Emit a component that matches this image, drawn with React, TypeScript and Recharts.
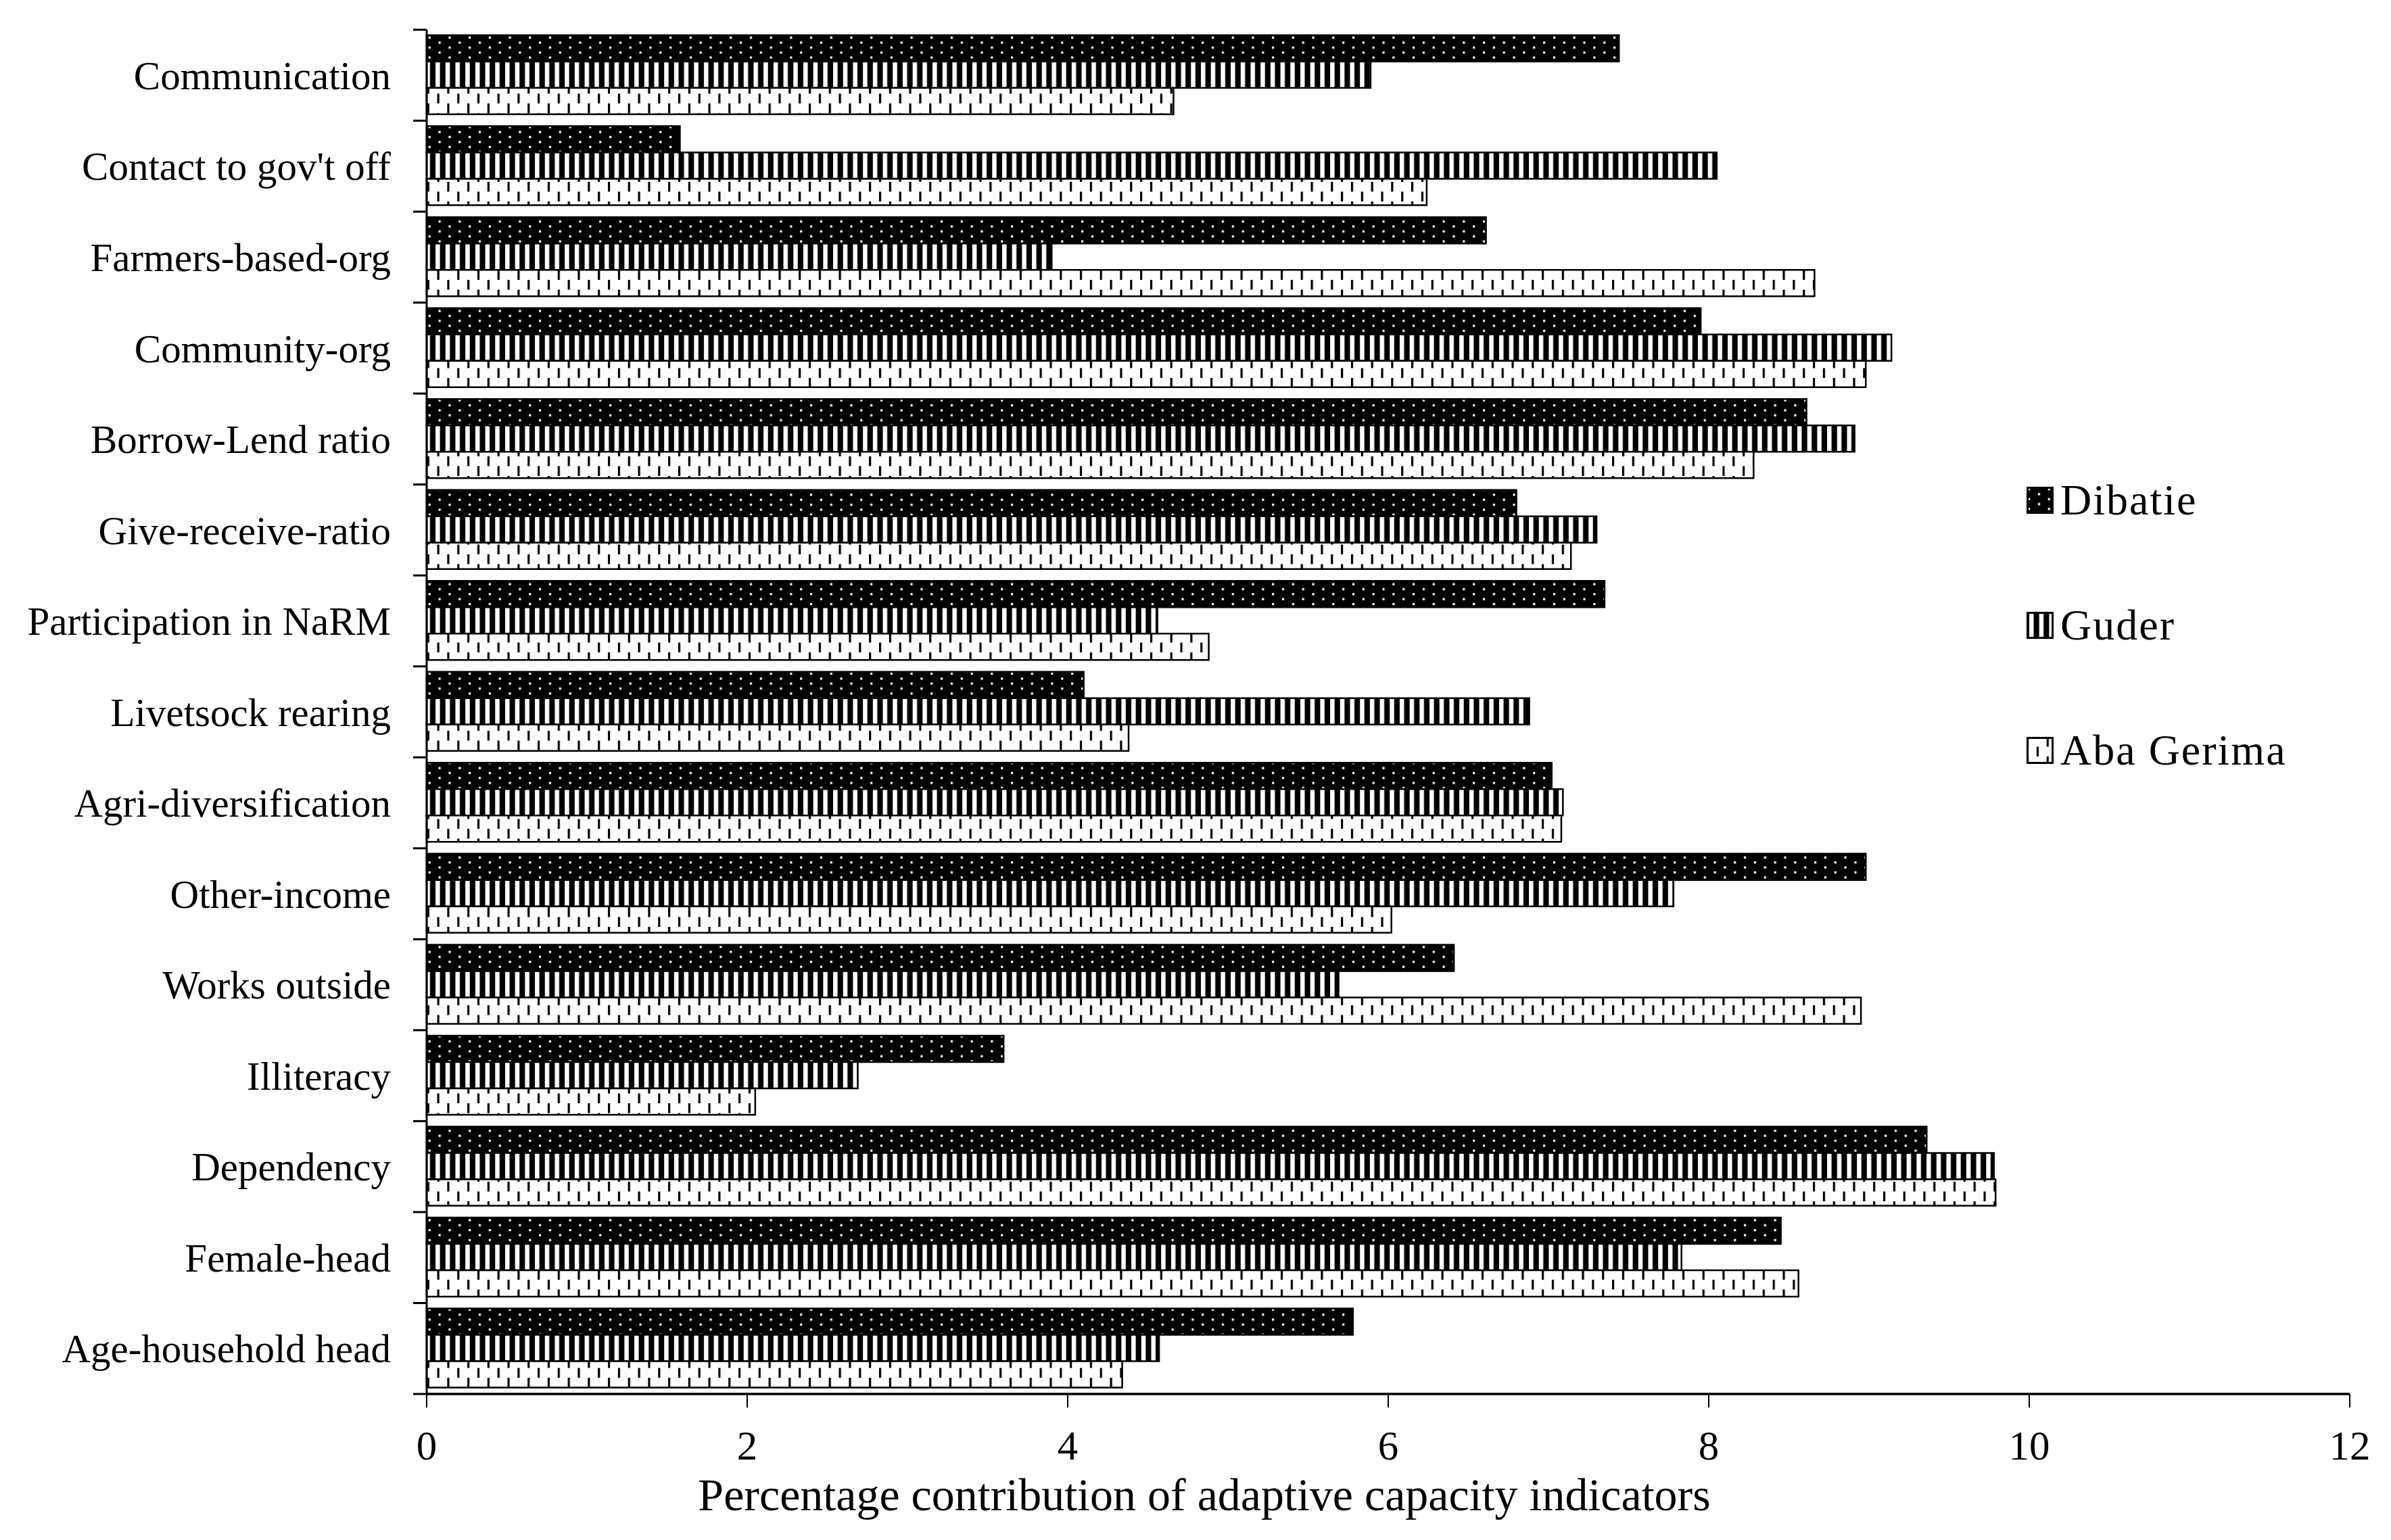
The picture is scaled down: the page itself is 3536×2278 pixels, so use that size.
import React from "react"
import { Bar, BarChart, Legend, XAxis, YAxis } from "recharts"

const categories = [
  "Communication",
  "Contact to gov't off",
  "Farmers-based-org",
  "Community-org",
  "Borrow-Lend ratio",
  "Give-receive-ratio",
  "Participation in NaRM",
  "Livetsock rearing",
  "Agri-diversification",
  "Other-income",
  "Works outside",
  "Illiteracy",
  "Dependency",
  "Female-head",
  "Age-household head",
]

const dibatie = [7.44, 1.58, 6.61, 7.95, 8.61, 6.8, 7.35, 4.1, 7.02, 8.98, 6.41, 3.6, 9.36, 8.45, 5.78]
const guder = [5.89, 8.05, 3.9, 9.14, 8.91, 7.3, 4.56, 6.88, 7.09, 7.78, 5.69, 2.69, 9.78, 7.83, 4.57]
const abaGerima = [4.66, 6.24, 8.66, 8.98, 8.28, 7.14, 4.88, 4.38, 7.08, 6.02, 8.95, 2.05, 9.79, 8.56, 4.34]

const seriesNames = ["Dibatie", "Guder", "Aba Gerima"]
const xTicks = [0, 2, 4, 6, 8, 10, 12]

const data = categories.map((name, i) => ({
  name,
  Dibatie: dibatie[i],
  Guder: guder[i],
  "Aba Gerima": abaGerima[i],
}))

const FONT = '"Liberation Serif", "Times New Roman", serif'
const W = 3520
const H = 2262
const TOP = 36
const X_AXIS_H = 208
const Y_AXIS_W = 623
const LABEL_GAP = 53
const BAND = (H - TOP - X_AXIS_H) / categories.length

const patternIds: Record<string, string> = {
  Dibatie: "pat-dib",
  Guder: "pat-gud",
  "Aba Gerima": "pat-aba",
}

function Patterns() {
  return (
    <svg width={0} height={0} style={{ position: "absolute" }}>
      <defs>
        <pattern id="pat-dib" width={29.7} height={14.7} patternUnits="userSpaceOnUse">
          <rect width={29.7} height={14.7} fill="#000" />
          <rect x={2} y={2} width={3.2} height={3.2} fill="#fff" />
          <rect x={16.85} y={9.35} width={3.2} height={3.2} fill="#fff" />
        </pattern>
        <pattern id="pat-gud" width={14.7} height={10} patternUnits="userSpaceOnUse">
          <rect width={14.7} height={10} fill="#000" />
          <rect x={4} y={0} width={6.5} height={10} fill="#fff" />
        </pattern>
        <pattern id="pat-aba" width={29.7} height={29} patternUnits="userSpaceOnUse">
          <rect width={29.7} height={29} fill="#fff" />
          <rect x={0} y={0} width={3.2} height={14.5} fill="#000" />
          <rect x={14.85} y={14.5} width={3.2} height={14.5} fill="#000" />
        </pattern>
      </defs>
    </svg>
  )
}

function CategoryTick(props: any) {
  const { x, y, payload } = props
  const i = categories.indexOf(payload.value)
  const axisX = x + LABEL_GAP
  return (
    <g>
      <line x1={axisX - 20} x2={axisX} y1={y - BAND / 2} y2={y - BAND / 2} stroke="#000" strokeWidth={3} />
      {i === categories.length - 1 && (
        <line x1={axisX - 20} x2={axisX} y1={y + BAND / 2} y2={y + BAND / 2} stroke="#000" strokeWidth={3} />
      )}
      <text x={x} y={y} dy="0.35em" textAnchor="end" fontSize={59} fill="#000" fontFamily={FONT}>
        {payload.value}
      </text>
    </g>
  )
}

function LegendContent() {
  return (
    <div style={{ fontFamily: FONT, fontSize: 64, color: "#000" }}>
      {seriesNames.map((s, i) => (
        <div
          key={s}
          style={{ display: "flex", alignItems: "center", height: 40, marginBottom: i < seriesNames.length - 1 ? 145 : 0 }}
        >
          <svg width={40} height={40}>
            <rect x={1.5} y={1.5} width={37} height={37} fill={`url(#${patternIds[s]})`} stroke="#000" strokeWidth={3} />
          </svg>
          <span style={{ marginLeft: 10, lineHeight: "40px", letterSpacing: 2, whiteSpace: "nowrap" }}>{s}</span>
        </div>
      ))}
    </div>
  )
}

export default function App() {
  return (
    <div style={{ width: W, height: H, fontFamily: FONT, position: "relative" }}>
      <Patterns />
      <BarChart
        width={W}
        height={H}
        data={data}
        layout="vertical"
        margin={{ top: TOP, right: 53, bottom: 0, left: 0 }}
        barCategoryGap="6%"
        barGap={0}
      >
        <XAxis
          type="number"
          domain={[0, 12]}
          ticks={xTicks}
          height={X_AXIS_H}
          axisLine={{ stroke: "#000", strokeWidth: 3.5 }}
          tickLine={{ stroke: "#000", strokeWidth: 2 }}
          tickSize={20}
          tickMargin={34}
          tick={{ fill: "#000", fontSize: 61, fontFamily: FONT }}
          label={{
            value: "Percentage contribution of adaptive capacity indicators",
            position: "insideBottom",
            offset: 36,
            dx: -272,
            fill: "#000",
            fontSize: 68,
            fontFamily: FONT,
          }}
        />
        <YAxis
          type="category"
          dataKey="name"
          width={Y_AXIS_W}
          axisLine={{ stroke: "#000", strokeWidth: 3 }}
          tickLine={false}
          tickSize={0}
          tickMargin={LABEL_GAP}
          interval={0}
          tick={<CategoryTick />}
        />
        <Legend
          layout="vertical"
          align="center"
          verticalAlign="middle"
          content={<LegendContent />}
          wrapperStyle={{ position: "absolute", top: 712, left: 2989, width: 500 }}
        />
        {seriesNames.map((s) => (
          <Bar
            key={s}
            dataKey={s}
            fill={`url(#${patternIds[s]})`}
            stroke="#000"
            strokeWidth={2.5}
            isAnimationActive={false}
          />
        ))}
      </BarChart>
    </div>
  )
}
